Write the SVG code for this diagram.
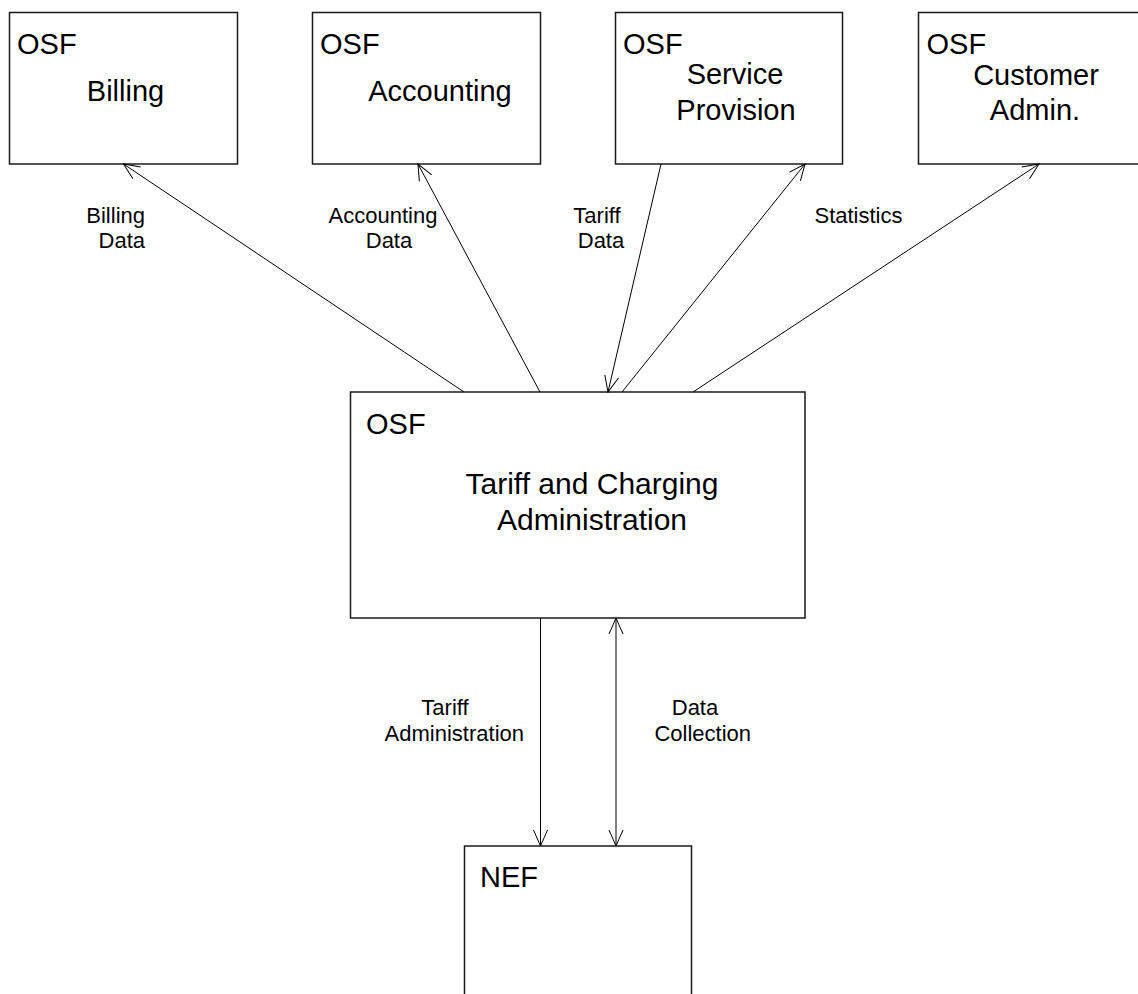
<svg xmlns="http://www.w3.org/2000/svg" width="1138" height="994" viewBox="0 0 1138 994">
<style>
  .box { fill: #fff; stroke: #1a1a1a; stroke-width: 1.5; }
  .t { font-family: "Liberation Sans", Arial, sans-serif; font-size: 29px; fill: #000; }
  .big { font-family: "Liberation Sans", Arial, sans-serif; font-size: 30px; fill: #000; text-anchor: middle; }
  .m { text-anchor: middle; }
  .lbl { font-family: "Liberation Sans", Arial, sans-serif; font-size: 22px; fill: #000; }
  .e { text-anchor: end; }
  .conn line { stroke: #000; stroke-width: 1; fill: none; }
</style>
<defs>
  <marker id="arr" markerUnits="userSpaceOnUse" markerWidth="20" markerHeight="20" viewBox="-18 -9 20 18" refX="0" refY="0" orient="auto-start-reverse">
    <path d="M-16,-7 L0,0 L-16,7" fill="none" stroke="#000" stroke-width="1"/>
  </marker>
</defs>
<rect width="1138" height="994" fill="#fff"/>

<g id="billing">
  <rect class="box" x="9.5" y="12.5" width="228" height="151.5"/>
  <text class="t" x="17" y="54">OSF</text>
  <text class="t m" x="125.5" y="101">Billing</text>
</g>
<g id="accounting">
  <rect class="box" x="312.5" y="12.5" width="228" height="151.5"/>
  <text class="t" x="320" y="54">OSF</text>
  <text class="t m" x="440" y="101">Accounting</text>
</g>
<g id="service">
  <rect class="box" x="615.5" y="12.5" width="227" height="151.5"/>
  <text class="t" x="623" y="54">OSF</text>
  <text class="t m" x="735" y="84">Service</text>
  <text class="t m" x="736" y="120">Provision</text>
</g>
<g id="customer">
  <rect class="box" x="918.5" y="12.5" width="228" height="151.5"/>
  <text class="t" x="926.5" y="54">OSF</text>
  <text class="t m" x="1036" y="85">Customer</text>
  <text class="t m" x="1035" y="120">Admin.</text>
</g>
<g id="tca">
  <rect class="box" x="350.5" y="392" width="454.5" height="226"/>
  <text class="t" x="366" y="434">OSF</text>
  <text class="big" x="592" y="494">Tariff and Charging</text>
  <text class="big" x="592" y="530">Administration</text>
</g>
<g id="nef">
  <path class="box" d="M464.5,1000 V846 H691.5 V1000"/>
  <text class="t" x="480" y="887">NEF</text>
</g>

<g id="connectors" class="conn">
  <line x1="464" y1="392" x2="123.5" y2="164" marker-end="url(#arr)"/>
  <line x1="540" y1="392" x2="418" y2="164" marker-end="url(#arr)"/>
  <line x1="661" y1="164" x2="608" y2="392" marker-end="url(#arr)"/>
  <line x1="622" y1="392" x2="805" y2="164" marker-end="url(#arr)"/>
  <line x1="693" y1="392" x2="1039" y2="164" marker-end="url(#arr)"/>
  <line x1="540.5" y1="618" x2="540.5" y2="846" marker-end="url(#arr)"/>
  <line x1="616" y1="618" x2="616" y2="846" marker-start="url(#arr)" marker-end="url(#arr)"/>
</g>

<g id="labels">
  <text class="lbl e" x="145" y="223">Billing</text>
  <text class="lbl e" x="145" y="248">Data</text>
  <text class="lbl m" x="383" y="223">Accounting</text>
  <text class="lbl m" x="389" y="248">Data</text>
  <text class="lbl m" x="597" y="223">Tariff</text>
  <text class="lbl m" x="601" y="248">Data</text>
  <text class="lbl m" x="858.5" y="223">Statistics</text>
  <text class="lbl m" x="445" y="715">Tariff</text>
  <text class="lbl e" x="524" y="741">Administration</text>
  <text class="lbl m" x="695" y="715">Data</text>
  <text class="lbl e" x="751" y="741">Collection</text>
</g>
</svg>
